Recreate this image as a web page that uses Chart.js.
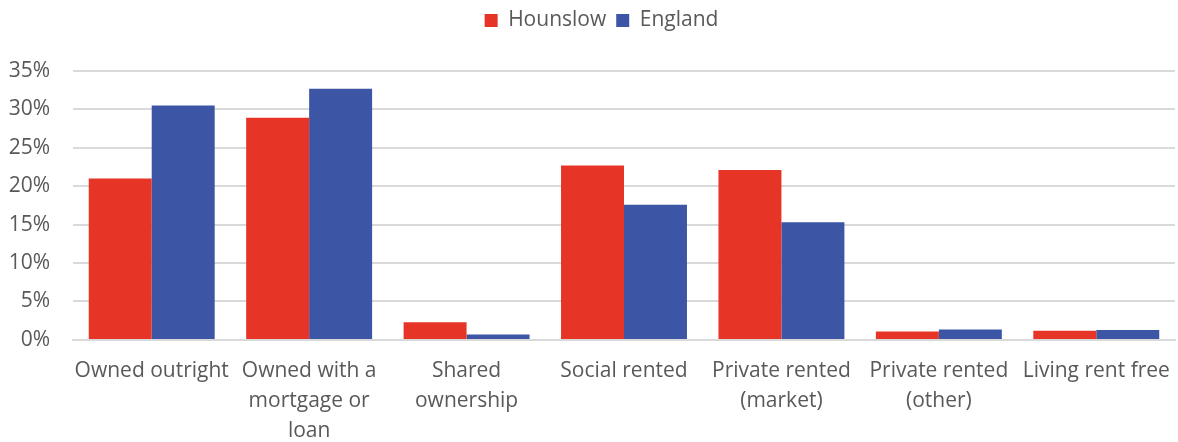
<!DOCTYPE html>
<html>
<head>
<meta charset="utf-8">
<script src="https://cdn.jsdelivr.net/npm/chart.js@4/dist/chart.umd.min.js"></script>
<style>
  html, body { margin: 0; padding: 0; background: #fff; }
  #wrap { width: 1178px; height: 442px; }
</style>
</head>
<body>
<div id="wrap"><canvas id="chart"></canvas></div>
<script>
var categories = [
    "Owned outright",
    ["Owned with a", "mortgage or", "loan"],
    ["Shared", "ownership"],
    "Social rented",
    ["Private rented", "(market)"],
    ["Private rented", "(other)"],
    "Living rent free"
];
var hounslow = [21.0, 28.9, 2.3, 22.7, 22.1, 1.1, 1.2];
var england = [30.5, 32.7, 0.7, 17.6, 15.3, 1.35, 1.3];

Chart.defaults.font.family = "'Open Sans', 'Noto Sans', sans-serif";
Chart.defaults.color = "#595959";

// push the plot down below the legend and nudge the legend right, like the original
var legendGap = {
    id: "legendGap",
    beforeInit: function(chart) {
        var legend = chart.legend;
        var fit = legend.fit;
        legend.fit = function() {
            fit.bind(legend)();
            this.height += 30;
        };
        var draw = legend.draw;
        legend.draw = function() {
            var ctx = chart.ctx;
            ctx.save();
            ctx.translate(14, 0);
            draw.bind(legend)();
            ctx.restore();
        };
    }
};

new Chart(document.getElementById("chart"), {
    type: "bar",
    data: {
        labels: categories,
        datasets: [
            {
                label: "Hounslow",
                backgroundColor: "#E63426",
                data: hounslow
            },
            {
                label: "England",
                backgroundColor: "#3C56A5",
                data: england
            }
        ]
    },
    plugins: [legendGap],
    options: {
        responsive: true,
        maintainAspectRatio: false,
        animation: false,
        layout: { padding: { left: 0, right: 3, top: 0, bottom: -20 } },
        datasets: {
            bar: { categoryPercentage: 0.8, barPercentage: 1.0 }
        },
        plugins: {
            legend: {
                position: "top",
                labels: {
                    font: { size: 21 },
                    boxWidth: 13,
                    boxHeight: 13,
                    padding: 10
                }
            },
            tooltip: { enabled: false }
        },
        scales: {
            x: {
                grid: { display: false, drawTicks: false },
                border: { color: "#d9d9d9", width: 2 },
                ticks: {
                    font: { size: 21, lineHeight: 1.43 },
                    maxRotation: 0,
                    autoSkip: false,
                    padding: 16
                },
                afterFit: function(scale) {
                    scale.paddingLeft = 0;
                    scale.paddingRight = 0;
                }
            },
            y: {
                min: 0,
                max: 35,
                grid: { color: "#d9d9d9", lineWidth: 2, drawTicks: false },
                border: { display: false },
                ticks: {
                    stepSize: 5,
                    font: { size: 21 },
                    padding: 23,
                    callback: function(v) { return v + "%"; }
                },
                afterFit: function(scale) {
                    scale.width = 73;
                }
            }
        }
    }
});
</script>
</body>
</html>
